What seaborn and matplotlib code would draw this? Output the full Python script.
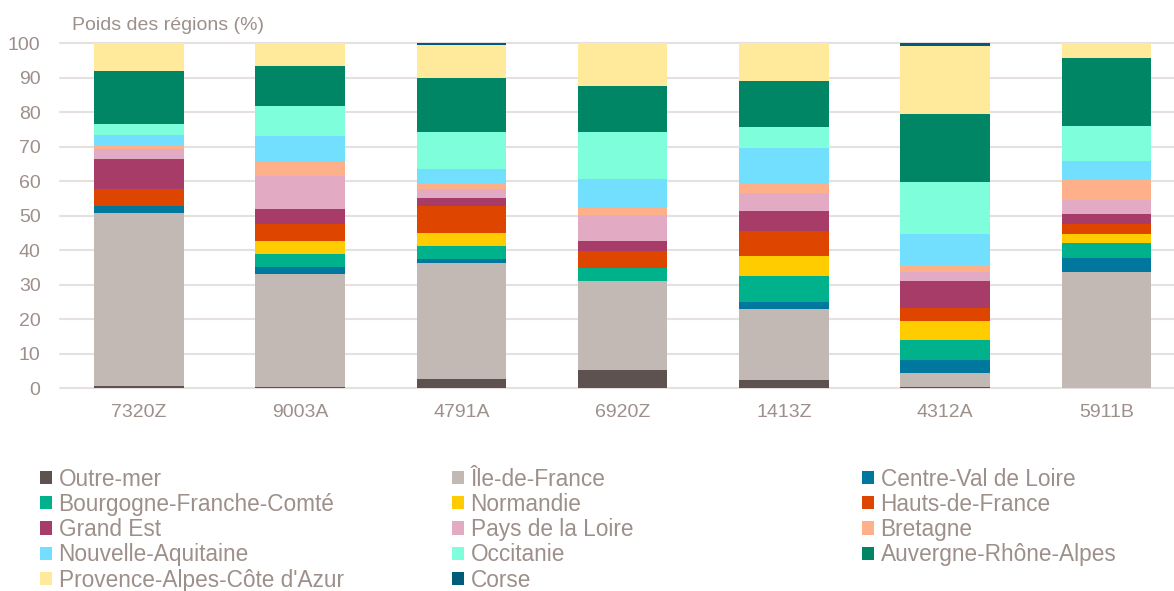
import pandas as pd
import matplotlib
matplotlib.use("Agg")
import matplotlib.pyplot as plt
from matplotlib.patches import Patch
import seaborn as sns

# Codes APE (axe x)
codes = ["7320Z", "9003A", "4791A", "6920Z", "1413Z", "4312A", "5911B"]

# Régions, dans l'ordre d'empilement (du bas vers le haut)
regions = [
    "Outre-mer", "Île-de-France", "Centre-Val de Loire",
    "Bourgogne-Franche-Comté", "Normandie", "Hauts-de-France",
    "Grand Est", "Pays de la Loire", "Bretagne",
    "Nouvelle-Aquitaine", "Occitanie", "Auvergne-Rhône-Alpes",
    "Provence-Alpes-Côte d'Azur", "Corse",
]

couleurs = [
    "#5d524f", "#c2b9b4", "#00789e", "#00b28c", "#ffcc00", "#de4600",
    "#a83c68", "#e2abc3", "#feb08b", "#72dffe", "#7efedb", "#008565",
    "#ffe99a", "#005c78",
]

# Poids des régions (%) par code, même ordre que regions
poids_7320Z = [0.7, 50.1, 1.9, 0.0, 0.0, 5.0, 8.9, 2.9, 1.0, 3.0, 3.0, 15.6, 7.9, 0.0]
poids_9003A = [0.5, 32.6, 2.1, 3.6, 4.0, 4.7, 4.5, 9.6, 4.1, 7.4, 8.6, 11.7, 6.6, 0.0]
poids_4791A = [2.7, 33.5, 1.4, 3.7, 3.8, 7.6, 2.5, 2.5, 1.9, 4.1, 10.7, 15.4, 9.8, 0.4]
poids_6920Z = [5.4, 25.8, 0.0, 3.8, 0.0, 4.9, 2.8, 7.6, 1.9, 8.5, 13.5, 13.3, 12.5, 0.0]
poids_1413Z = [2.5, 20.5, 1.9, 7.6, 5.8, 7.4, 5.7, 5.3, 2.4, 10.5, 6.1, 13.5, 10.8, 0.0]
poids_4312A = [0.4, 3.9, 4.0, 5.8, 5.3, 4.0, 7.7, 2.7, 1.9, 9.0, 15.2, 19.6, 19.7, 0.8]
poids_5911B = [0.2, 33.5, 4.2, 4.1, 2.8, 2.9, 2.8, 4.2, 5.6, 5.7, 9.9, 19.8, 4.3, 0.0]

poids = [poids_7320Z, poids_9003A, poids_4791A, poids_6920Z,
         poids_1413Z, poids_4312A, poids_5911B]

rows = []
for code, vals in zip(codes, poids):
    for reg, v in zip(regions, vals):
        rows.append({"code": code, "region": reg, "poids": v})
df = pd.DataFrame(rows)

gris_texte = "#9d8f8a"
gris_grille = "#e6e0e0"

sns.set_theme(style="white")
plt.rcParams["font.family"] = ["Liberation Sans", "DejaVu Sans"]

W, H = 1174, 591
fig = plt.figure(figsize=(W / 100, H / 100), dpi=100)
ax = fig.add_axes([60 / W, (H - 388.3) / H, 1114 / W, 345 / H])

# l'ordre de hue est inversé pour que Outre-mer soit en bas de la pile
sns.histplot(
    data=df, x="code", weights="poids", hue="region",
    hue_order=regions[::-1], palette=couleurs[::-1],
    multiple="stack", discrete=True, shrink=0.555,
    linewidth=0, alpha=1, legend=False, ax=ax,
)

ax.set_xlim(-0.49, 6.42)
ax.set_ylim(0, 100)
ax.set_yticks(range(0, 101, 10))
ax.set_xlabel("")
ax.set_ylabel("")
for s in ax.spines.values():
    s.set_visible(False)
ax.yaxis.grid(True, color=gris_grille, linewidth=1.5)
ax.xaxis.grid(False)
ax.set_axisbelow(True)
for line in ax.get_ygridlines():
    line.set_clip_on(False)
ax.tick_params(axis="y", length=0, pad=14, labelsize=14, labelcolor=gris_texte)
ax.tick_params(axis="x", length=0, pad=11.5, labelsize=14, labelcolor=gris_texte)

fig.text(72 / W, (H - 25) / H, "Poids des régions (%)", fontsize=14,
         color=gris_texte, va="center", ha="left")

# Légende en trois colonnes, remplie ligne par ligne
col_x = [40, 452, 862]
for c in range(3):
    idx = list(range(c, len(regions), 3))
    handles = [Patch(facecolor=couleurs[i], edgecolor="none") for i in idx]
    labels = [regions[i] for i in idx]
    leg = fig.legend(
        handles, labels, loc="upper left",
        bbox_to_anchor=(col_x[c] / W, (H - 467.5) / H),
        frameon=False, fontsize=16.3, labelcolor=gris_texte,
        handlelength=0.52, handleheight=0.52, handletextpad=0.3,
        labelspacing=0.10, borderpad=0, borderaxespad=0,
    )

fig.savefig("out.png", dpi=100)
